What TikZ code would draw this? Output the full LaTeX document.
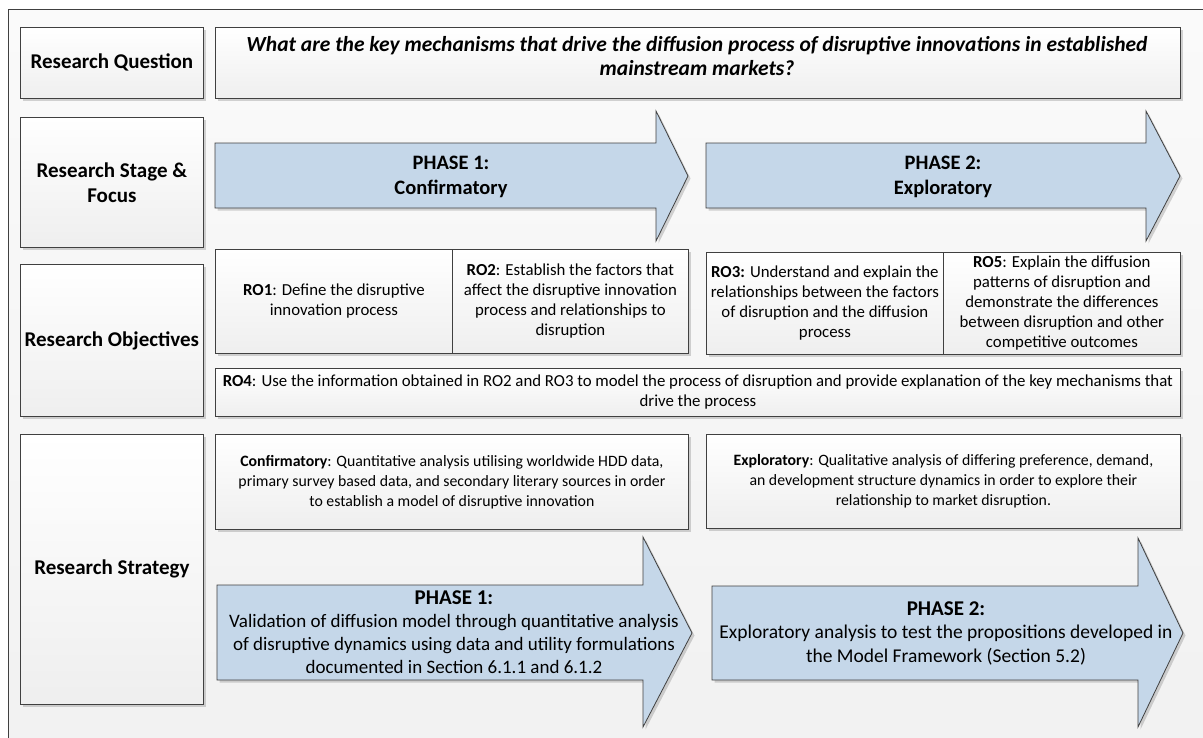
\documentclass[tikz,border=0pt]{standalone}
\usepackage{fontspec}
\setmainfont{Carlito}
\usetikzlibrary{shadows}

\definecolor{phaseblue}{RGB}{197,215,233}
\definecolor{edge}{RGB}{64,64,64}
\definecolor{paneltop}{RGB}{250,250,250}
\definecolor{panelbot}{RGB}{241,241,241}

\tikzset{
  softshadow/.style={drop shadow={shadow xshift=2.5pt, shadow yshift=-2.5pt, fill=black, opacity=0.16}},
  box/.style={draw=edge, line width=0.8pt, top color=white, bottom color=gray!13,
    softshadow, align=center, inner xsep=2pt, inner ysep=0pt, anchor=north west},
  lab/.style={box, font=\fontsize{21}{25}\selectfont\bfseries},
  txt/.style={box, font=\fontsize{16.8}{20}\selectfont},
  stxt/.style={box, font=\fontsize{15.8}{20}\selectfont},
  phase/.style={draw=edge, line width=0.8pt, fill=phaseblue, softshadow},
  phasetext/.style={align=center, inner sep=0pt},
}

\begin{document}
\begin{tikzpicture}[x=1pt, y=-1pt]
\useasboundingbox (0,0) rectangle (1203,737);
\clip (0,0) rectangle (1203,737);

% outer panel
\path[draw=edge, line width=0.8pt, top color=paneltop, bottom color=panelbot] (8,9) rectangle (1240,780);

% row labels
\node[lab, minimum width=183pt, minimum height=71pt]  (rq)  at (20,27)  {Research Question};
\node[lab, minimum width=183pt, minimum height=130pt] (rs)  at (20,117) {Research Stage \&\\Focus};
\node[lab, minimum width=183pt, minimum height=152pt] (ro)  at (20,264) {Research Objectives};
\node[lab, minimum width=183pt, minimum height=270pt] (rst) at (20,434) {Research Strategy};

% research question
\node[box, minimum width=965pt, minimum height=71pt] (q) at (215,27) {};
\node[phasetext, font=\fontsize{21.5}{24}\selectfont\bfseries\itshape] (qt) at (697,56)
  {What are the key mechanisms that drive the diffusion process of disruptive innovations in established\\mainstream markets?};

% research stage arrows
\path[phase] (215,143) -- (656,143) -- (656,111) -- (688,176) -- (656,241) -- (656,208) -- (215,208) -- cycle;
\node[phasetext, font=\fontsize{20.5}{24.5}\selectfont\bfseries] (p1) at (451,177) {PHASE 1:\\Confirmatory};
\path[phase] (706,143) -- (1146,143) -- (1146,111) -- (1180,176) -- (1146,241) -- (1146,208) -- (706,208) -- cycle;
\node[phasetext, font=\fontsize{20.5}{24.5}\selectfont\bfseries] (p2) at (943,177) {PHASE 2:\\Exploratory};

% research objectives
\node[txt, minimum width=237pt, minimum height=104pt] (ro1) at (215,249)
  {\textbf{RO1}: Define the disruptive\\innovation process};
\node[txt, minimum width=236pt, minimum height=104pt] (ro2) at (452,249)
  {\textbf{RO2}: Establish the factors that\\affect the disruptive innovation\\process and relationships to\\disruption};
\node[txt, minimum width=237pt, minimum height=102pt] (ro3) at (706,252)
  {\textbf{RO3:} Understand and explain the\\relationships between the factors\\of disruption and the diffusion\\process};
\node[txt, minimum width=237pt, minimum height=102pt] (ro5) at (943,252)
  {\textbf{RO5}: Explain the diffusion\\patterns of disruption and\\demonstrate the differences\\between disruption and other\\competitive outcomes};
\node[txt, minimum width=965pt, minimum height=48pt] (ro4) at (215,368)
  {\textbf{RO4}: Use the information obtained in RO2 and RO3 to model the process of disruption and provide explanation of the key mechanisms that\\drive the process};

% research strategy
\node[stxt, minimum width=473pt, minimum height=95pt] (sc) at (215,434)
  {\textbf{Confirmatory}: Quantitative analysis utilising worldwide HDD data,\\primary survey based data, and secondary literary sources in order\\to establish a model of disruptive innovation};
\node[stxt, minimum width=474pt, minimum height=94pt] (se) at (706,434)
  {\textbf{Exploratory}: Qualitative analysis of differing preference, demand,\\an development structure dynamics in order to explore their\\relationship to market disruption.};

\path[phase] (217,585) -- (643,585) -- (643,537) -- (692,633) -- (643,727) -- (643,680) -- (217,680) -- cycle;
\node[phasetext, font=\fontsize{19}{23}\selectfont] (b1) at (454,632)
  {{\fontsize{21}{23}\selectfont\bfseries PHASE 1:}\\Validation of diffusion model through quantitative analysis\\of disruptive dynamics using data and utility formulations\\documented in Section 6.1.1 and 6.1.2};
\path[phase] (712,586) -- (1138,586) -- (1138,538) -- (1183,633) -- (1138,727) -- (1138,680) -- (712,680) -- cycle;
\node[phasetext, font=\fontsize{19.5}{23.5}\selectfont] (b2) at (946,633)
  {{\fontsize{21}{23}\selectfont\bfseries PHASE 2:}\\Exploratory analysis to test the propositions developed in\\the Model Framework (Section 5.2)};
\end{tikzpicture}
\end{document}
